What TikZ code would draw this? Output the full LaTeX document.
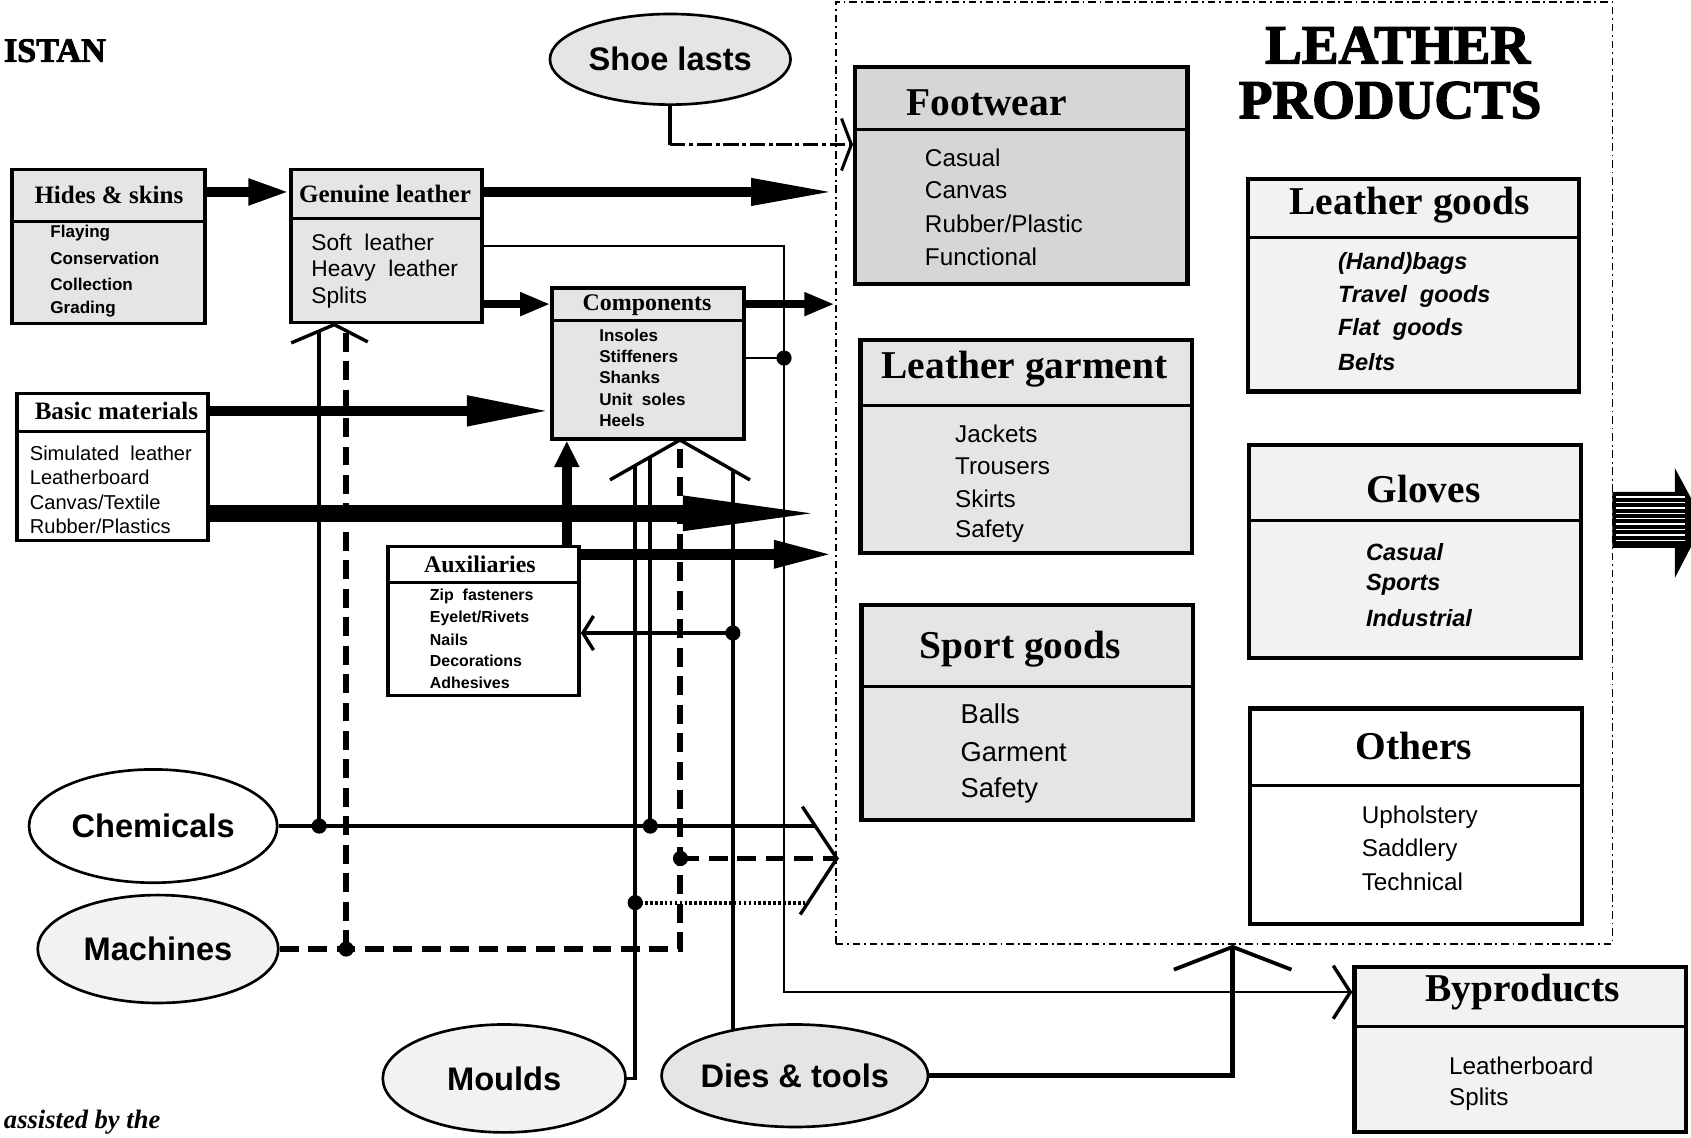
\documentclass[tikz,border=0pt]{standalone}
\usepackage{fontspec}
\setmainfont{Liberation Serif}
\setsansfont{Liberation Sans}
\newfontfamily\heavyfont[BoldFeatures={FakeBold=2.5}]{Liberation Serif}
\usetikzlibrary{arrows.meta,calc,shapes.geometric}

\tikzset{
  box/.style={draw, line width=0.9pt, inner sep=0pt},
  bigbox/.style={draw, line width=1.1pt, inner sep=0pt},
  fillD/.style={fill=black!16},
  fillM/.style={fill=black!10},
  fillL/.style={fill=black!5},
  divider/.style={line width=0.8pt},
  hdr/.style={font=\bfseries\fontsize{6.6}{7}\selectfont, inner sep=0pt},
  bighdr/.style={font=\bfseries\fontsize{10.4}{12}\selectfont, inner sep=0pt},
  itm/.style={font=\sffamily\fontsize{6.4}{7}\selectfont, anchor=west, inner sep=0pt},
  ititm/.style={font=\sffamily\bfseries\itshape\fontsize{6.2}{7}\selectfont, anchor=west, inner sep=0pt},
  smallitm/.style={font=\sffamily\bfseries\fontsize{4.5}{5}\selectfont, anchor=west, inner sep=0pt},
  src/.style={ellipse, draw, line width=0.7pt, inner sep=0pt,
              font=\sffamily\bfseries\fontsize{8.6}{10}\selectfont},
  flow/.style={line width=1.1pt},
  thinflow/.style={line width=0.55pt},
  dashflow/.style={line width=1.5pt, dash pattern=on 5pt off 2.5pt},
  dotflow/.style={line width=1.1pt, dash pattern=on 0.7pt off 0.6pt},
  chev/.style={line width=0.9pt},
}

\begin{document}
\begin{tikzpicture}[x=0.01cm, y=-0.01cm]
\useasboundingbox (0,0) rectangle (1568,1055);

%==================================================
% Page text at the margins
%==================================================
\node[font=\heavyfont\bfseries\fontsize{9}{11}\selectfont, anchor=west, inner sep=0pt] (country) at (3,47) {ISTAN};
\node[font=\bfseries\itshape\fontsize{7}{8}\selectfont, anchor=base west, inner sep=0pt] (credit) at (3,1046) {assisted by the};

%==================================================
% Products frame
%==================================================
\node[draw, line width=0.5pt, dash pattern=on 2pt off 1pt on 0.5pt off 1pt,
      minimum width=7.2cm, minimum height=8.73cm, inner sep=0pt] (lp) at (1135,438.5) {};
\node[font=\heavyfont\bfseries\fontsize{14.5}{16}\selectfont, inner sep=0pt] (lpT1) at (1296,42) {LEATHER};
\node[font=\heavyfont\bfseries\fontsize{14.5}{16}\selectfont, inner sep=0pt] (lpT2) at (1289,93) {PRODUCTS};

%==================================================
% Input boxes
%==================================================
% Hides & skins
\node[box, fillM, minimum width=1.79cm, minimum height=1.43cm] (hides) at (100.5,228.5) {};
\draw[divider] (hides.west |- 0,205) -- (hides.east |- 0,205);
\node[hdr] (hidesT) at (101,181) {Hides \& skins};
\foreach \t [count=\i from 0] in {Flaying,Conservation,Collection,Grading}
  \node[smallitm] (hides\i) at (46,216+23.7*\i) {\t};

% Genuine leather
\node[box, fillM, minimum width=1.77cm, minimum height=1.42cm] (gen) at (358.5,228) {};
\draw[divider] (gen.west |- 0,203) -- (gen.east |- 0,203);
\node[hdr] (genT) at (357,180) {Genuine leather};
\foreach \t [count=\i from 0] in {Soft~~leather,Heavy~~leather,Splits}
  \node[itm, font=\sffamily\fontsize{6}{7}\selectfont] (gen\i) at (288,225+25.5*\i) {\t};

% Components
\node[box, fillM, minimum width=1.78cm, minimum height=1.40cm] (comp) at (601,337) {};
\draw[divider] (comp.west |- 0,297) -- (comp.east |- 0,297);
\node[hdr, font=\bfseries\fontsize{6.3}{7}\selectfont] (compT) at (600,283) {Components};
\foreach \t [count=\i from 0] in {Insoles,Stiffeners,Shanks,Unit~~soles,Heels}
  \node[smallitm] (comp\i) at (555,311+19.7*\i) {\t};

% Basic materials
\node[box, fill=white, minimum width=1.77cm, minimum height=1.36cm] (basic) at (104.5,433) {};
\draw[divider] (basic.west |- 0,400) -- (basic.east |- 0,400);
\node[hdr] (basicT) at (108,381) {Basic materials};
\foreach \t [count=\i from 0] in {Simulated~~leather,Leatherboard,{Canvas/Textile},{Rubber/Plastics}}
  \node[itm, font=\sffamily\fontsize{5.3}{6}\selectfont] (basic\i) at (27,420+22.7*\i) {\t};

% Auxiliaries
\node[box, fill=white, minimum width=1.77cm, minimum height=1.38cm] (aux) at (448.5,576) {};
\draw[divider] (aux.west |- 0,540) -- (aux.east |- 0,540);
\node[hdr, font=\bfseries\fontsize{6.3}{7}\selectfont] (auxT) at (445,523) {Auxiliaries};
\foreach \t [count=\i from 0] in {Zip~~fasteners,{Eyelet/Rivets},Nails,Decorations,Adhesives}
  \node[smallitm, font=\sffamily\bfseries\fontsize{4.2}{5}\selectfont] (aux\i) at (398,553+20*\i) {\t};

%==================================================
% Product boxes
%==================================================
% Footwear
\node[bigbox, fillD, minimum width=3.08cm, minimum height=2.01cm] (foot) at (947,162.5) {};
\draw[divider] (foot.west |- 0,120) -- (foot.east |- 0,120);
\node[bighdr] (footT) at (915,95) {Footwear};
\foreach \t [count=\i from 0] in {Casual,Canvas,{Rubber/Plastic},Functional}
  \node[itm] (foot\i) at (857,146+30.7*\i) {\t};

% Leather garment
\node[bigbox, fillM, minimum width=3.07cm, minimum height=1.98cm] (garm) at (951.5,414) {};
\draw[divider] (garm.west |- 0,376) -- (garm.east |- 0,376);
\node[bighdr] (garmT) at (950,342) {Leather garment};
\foreach \t [count=\i from 0] in {Jackets,Trousers,Skirts,Safety}
  \node[itm] (garm\i) at (885,402+30.3*\i) {\t};

% Sport goods
\node[bigbox, fillM, minimum width=3.07cm, minimum height=1.99cm] (sport) at (952.5,660.5) {};
\draw[divider] (sport.west |- 0,637) -- (sport.east |- 0,637);
\node[bighdr] (sportT) at (946,602) {Sport goods};
\foreach \t [count=\i from 0] in {Balls,Garment,Safety}
  \node[itm, font=\sffamily\fontsize{7.2}{8}\selectfont] (sport\i) at (890,662+35.5*\i) {\t};

% Leather goods
\node[bigbox, fillL, minimum width=3.07cm, minimum height=1.97cm] (lgoods) at (1310.5,264.5) {};
\draw[divider] (lgoods.west |- 0,220) -- (lgoods.east |- 0,220);
\node[bighdr] (lgoodsT) at (1307,190) {Leather goods};
\foreach \t [count=\i from 0] in {(Hand)bags,Travel~~goods,Flat~~goods,Belts}
  \node[ititm] (lgoods\i) at (1240,244+30.7*\i) {\t};

% Gloves
\node[bigbox, fillL, minimum width=3.08cm, minimum height=1.97cm] (gloves) at (1312,511.5) {};
\draw[divider] (gloves.west |- 0,483) -- (gloves.east |- 0,483);
\node[bighdr] (glovesT) at (1320,453) {Gloves};
\foreach \t [count=\i from 0] in {Casual,Sports,Industrial}
  \node[ititm] (gloves\i) at (1266,512+30.5*\i) {\t};

% Others
\node[bigbox, fill=white, minimum width=3.08cm, minimum height=2.0cm] (others) at (1313,757) {};
\draw[divider] (others.west |- 0,728) -- (others.east |- 0,728);
\node[bighdr] (othersT) at (1311,692) {Others};
\foreach \t [count=\i from 0] in {Upholstery,Saddlery,Technical}
  \node[itm] (others\i) at (1262,758+30*\i) {\t};

% Byproducts
\node[bigbox, fillL, minimum width=3.07cm, minimum height=1.53cm] (byprod) at (1409.5,973.5) {};
\draw[divider] (byprod.west |- 0,952) -- (byprod.east |- 0,952);
\node[bighdr] (byprodT) at (1412,920) {Byproducts};
\foreach \t [count=\i from 0] in {Leatherboard,Splits}
  \node[itm] (byprod\i) at (1343,988+31*\i) {\t};

%==================================================
% Supply ellipses
%==================================================
\node[src, fillM, minimum width=2.23cm, minimum height=0.84cm] (shoe) at (621.5,55) {Shoe lasts};
\node[src, fill=white, minimum width=2.3cm, minimum height=1.05cm] (chem) at (142,766) {Chemicals};
\node[src, fillL, minimum width=2.23cm, minimum height=1.0cm] (mach) at (146.5,880) {Machines};
\node[src, fillL, minimum width=2.25cm, minimum height=1.0cm] (mould) at (467.5,1000) {Moulds};
\node[src, fillM, minimum width=2.2cm, minimum height=0.95cm] (dies) at (737,997.5) {Dies \& tools};

%==================================================
% Thick material flows
%==================================================
\draw[line width=2.5pt, -{Triangle[length=10.8pt,width=6.4pt]}] (hides.east |- 0,178) -- (gen.west |- 0,178);
\draw[line width=2.6pt, -{Triangle[length=22pt,width=6.6pt]}] (gen.east |- 0,178) -- (lp.west |- 0,178);
\draw[line width=2.3pt, -{Triangle[length=8pt,width=5.8pt]}] (gen.east |- 0,282) -- (comp.west |- 0,282);
\draw[line width=2.3pt, -{Triangle[length=8pt,width=5.8pt]}] (comp.east |- 0,282) -- (lp.west |- 0,282);
\draw[line width=2.8pt, -{Triangle[length=22pt,width=7.4pt]}] (basic.east |- 0,381) -- (comp.west |- 0,381);
\draw[line width=4.4pt, -{Triangle[length=40pt,width=8pt]}] (basic.east |- 0,476) -- (lp.west |- 0,476);
\draw[line width=2.5pt, -{Triangle[length=7pt,width=6.2pt]}] (aux.north -| 525.6,0) -- (comp.south -| 525.6,0);
\draw[line width=3pt, -{Triangle[length=16pt,width=6.6pt]}] (aux.east |- 0,514) -- (lp.west |- 0,514);

%==================================================
% Thin flows
%==================================================
% leather to byproducts
\coordinate (gl1) at (727,228);
\coordinate (gl2) at (727,920);
\draw[thinflow, -{Straight Barb[length=4.5pt,width=14pt,line width=0.9pt]}]
  (gen.east |- gl1) -- (gl1) -- (gl2) -- (byprod.west |- gl2);
\coordinate (cj) at (727,332);
\draw[line width=0.7pt] (comp.east |- cj) -- (cj);

% shoe lasts to footwear
\coordinate (sl) at (shoe.south |- 0,134);
\draw[line width=1pt] (shoe.south) -- (sl);
\draw[line width=1pt, dash pattern=on 4pt off 1pt on 1pt off 1pt,
      -{Straight Barb[length=2.6pt,width=13.7pt,line width=0.8pt]}] (sl) -- (foot.west |- sl);

%--------------------------------------------------
% Open chevrons shared by several lines
%--------------------------------------------------
\coordinate (gA) at (310,301);
\coordinate (cA) at (630.5,408);
\coordinate (pA) at (776,796);
\draw[chev] (270,318) -- (gA) -- (341,317);
\draw[chev] (565.6,445) -- (cA) -- (695.4,445);
\draw[chev] (744,748) -- (pA) -- (742,848);

% chemicals
\coordinate (cd1) at (296,766);
\coordinate (cd2) at (603,766);
\draw[flow] (chem.east) -- (756,766);
\draw[flow] (cd1) -- (296,307);
\draw[flow] (cd2) -- (603,424);

% machines
\coordinate (md1) at (321,880);
\coordinate (md2) at (631,796);
\draw[dashflow] (mach.east) -| (cA);
\draw[dashflow] (md1) -- (321,307);
\draw[dashflow] (md2) -- (pA);

% moulds
\coordinate (mo1) at (589,837);
\draw[line width=0.9pt] (mould.east) -| (589,432);
\draw[dotflow] (mo1) -- (749,837);

% dies & tools
\coordinate (dv) at (679.6,436);
\coordinate (ad) at (679.6,587);
\draw[flow] (dv) -- (dv |- dies.144);
\draw[line width=1.1pt, -{Straight Barb[length=2.8pt,width=9pt,line width=0.9pt]}] (ad) -- (aux.east |- ad);
\coordinate (dl) at (1143,997.5);
\draw[line width=1.3pt, -{Straight Barb[length=6pt,width=31pt,line width=1pt]}]
  (dies.east) -- (dl) -- (dl |- lp.south);

% junction dots
\foreach \p in {cj,cd1,cd2,md1,md2,mo1,ad}
  \fill (\p) circle (2pt);

%==================================================
% Outgoing block arrow
%==================================================
\fill (1495,456) -- (1553,456) -- (1553,434) -- (1580,484) -- (1553,536) -- (1553,508) -- (1495,508) -- cycle;
\foreach \y in {461,466,...,504}
  \draw[white, line width=0.35pt] (1498,\y) -- (1562,\y);

\end{tikzpicture}
\end{document}
